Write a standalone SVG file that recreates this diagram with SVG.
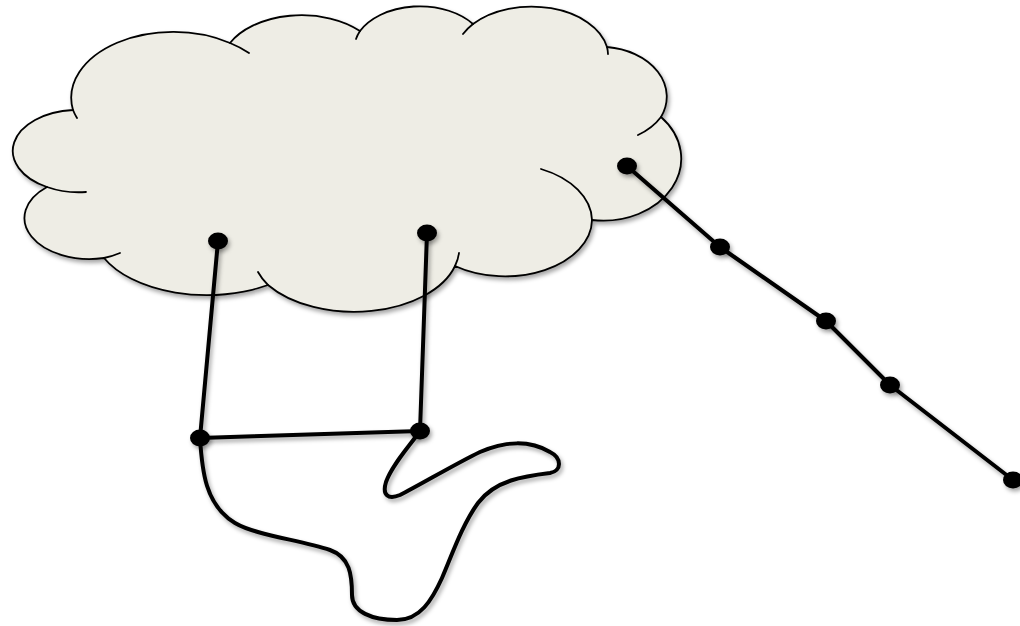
<svg xmlns="http://www.w3.org/2000/svg" width="1020" height="626" viewBox="0 0 1020 626">
  <defs>
    <filter id="shadow" x="-10%" y="-10%" width="120%" height="130%">
      <feDropShadow dx="2" dy="3" stdDeviation="2" flood-color="#000" flood-opacity="0.35"/>
    </filter>
    <style>
      .cloud { fill: #EEEDE5; stroke: #000; stroke-width: 1.8; stroke-linejoin: round; }
      .tick { fill: none; stroke: #000; stroke-width: 1.8; stroke-linecap: round; }
      .wire { fill: none; stroke: #000; stroke-width: 4; stroke-linecap: round; stroke-linejoin: round; }
      .dot { fill: #000; }
    </style>
  </defs>
  <rect width="1020" height="626" fill="#fff"/>

  <g id="cloud" filter="url(#shadow)">
    <path class="cloud" d="M73,110 A102,66 0 0 1 230,43 A80,50 0 0 1 360,31 A67,45 0 0 1 473,24 A77,50 0 0 1 607,47 A67,50 0 0 1 661,117 A78,62 0 0 1 592,220 A87,57 0 0 1 455,266 A105,63 0 0 1 268,285 A114,65 0 0 1 104,258 A65,41 0 0 1 47,187 A65,41 0 0 1 73,110 Z"/>
    <path class="tick" d="M73,110 A102,66 0 0 0 77,118 M230,43 A102,66 0 0 1 249,53 M360,31 A67,45 0 0 0 356,39 M473,24 A77,50 0 0 0 463,34 M607,47 A77,50 0 0 1 608,54 M661,117 A67,50 0 0 1 638,135 M541,169 A87,57 0 0 1 592,220 M455,266 A105,63 0 0 0 459,253 M268,285 A105,63 0 0 1 258,272 M104,258 A65,41 0 0 0 120,253 M47,187 A65,41 0 0 0 86,192"/>
  </g>

  <g id="blob" filter="url(#shadow)">
    <path class="wire" d="M200,438 C202,470 205,505 235,523 C255,535 300,540 330,550 C350,557 352,575 352,595 C352,612 372,620 397,620 C420,620 432,600 442,578 C452,555 462,525 478,503 C495,480 525,476 550,473 C562,471 562,458 550,452 C530,440 505,441 480,452 C455,464 420,485 400,495 C388,500 382,495 386,482 C392,465 408,448 420,431"/>
  </g>

  <g id="connectors" filter="url(#shadow)">
    <line class="wire" x1="218" y1="241" x2="200" y2="438"/>
    <line class="wire" x1="427" y1="233" x2="420" y2="431"/>
    <line class="wire" x1="200" y1="438" x2="420" y2="431"/>
    <polyline class="wire" points="627,166 720,247 826,321 890,385 1013,480"/>
  </g>

  <g id="points" filter="url(#shadow)">
    <ellipse id="p1" class="dot" cx="218" cy="241" rx="10" ry="8.5"/>
    <ellipse id="p2" class="dot" cx="427" cy="233" rx="10" ry="8.5"/>
    <ellipse id="p3" class="dot" cx="200" cy="438" rx="10" ry="8.5"/>
    <ellipse id="p4" class="dot" cx="420" cy="431" rx="10" ry="8.5"/>
    <ellipse id="p5" class="dot" cx="627" cy="166" rx="10" ry="8.5"/>
    <ellipse id="p6" class="dot" cx="720" cy="247" rx="10" ry="8.5"/>
    <ellipse id="p7" class="dot" cx="826" cy="321" rx="10" ry="8.5"/>
    <ellipse id="p8" class="dot" cx="890" cy="385" rx="10" ry="8.5"/>
    <ellipse id="p9" class="dot" cx="1013" cy="480" rx="10" ry="8.5"/>
  </g>
</svg>
